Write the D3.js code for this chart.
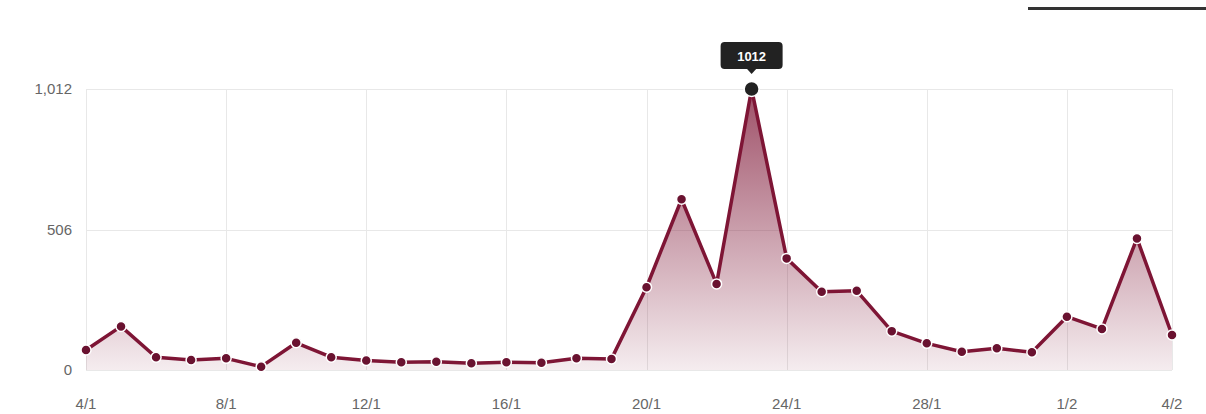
<!DOCTYPE html>
<html>
<head>
<meta charset="utf-8">
<script src="https://cdn.jsdelivr.net/npm/d3@7"></script>
<style>
  html, body { margin: 0; padding: 0; background: #fff; }
  svg { display: block; font-family: "Liberation Sans", Arial, sans-serif; }
</style>
</head>
<body>
<svg id="chart" width="1206" height="414"></svg>
<script>
/*** Data ***/
var days = ["2015-01-04","2015-01-05","2015-01-06","2015-01-07","2015-01-08","2015-01-09","2015-01-10","2015-01-11",
            "2015-01-12","2015-01-13","2015-01-14","2015-01-15","2015-01-16","2015-01-17","2015-01-18","2015-01-19",
            "2015-01-20","2015-01-21","2015-01-22","2015-01-23","2015-01-24","2015-01-25","2015-01-26","2015-01-27",
            "2015-01-28","2015-01-29","2015-01-30","2015-01-31","2015-02-01","2015-02-02","2015-02-03","2015-02-04"];
var counts = [72, 157, 46, 36, 42, 12, 98, 46,
              34, 28, 30, 24, 28, 26, 42, 40,
              298, 615, 310, 1012, 402, 282, 285, 140,
              96, 66, 78, 64, 192, 148, 474, 126];
var yTicks = [0, 506, 1012];
var xTickDays = ["2015-01-04","2015-01-08","2015-01-12","2015-01-16","2015-01-20","2015-01-24","2015-01-28","2015-02-01","2015-02-04"];
var highlightDay = "2015-01-23";

/*** Chart ***/
var parse = d3.timeParse("%Y-%m-%d");
var fmt = d3.timeFormat("%-d/%-m");
var lineColor = "#7e1535";

var margin = {top: 89, right: 34, bottom: 44, left: 86},
    width = 1206, height = 414;

var svg = d3.select("#chart");

var data = days.map((d, i) => ({date: parse(d), value: counts[i]}));

var x = d3.scaleTime()
  .domain(d3.extent(data, d => d.date))
  .range([margin.left, width - margin.right]);
var y = d3.scaleLinear()
  .domain([0, 1012])
  .range([height - margin.bottom, margin.top]);

// top-right header bar
svg.append("rect")
  .attr("x", 1028).attr("y", 7).attr("width", 178).attr("height", 3)
  .attr("fill", "#333");

// gradient for the area
var grad = svg.append("defs").append("linearGradient")
  .attr("id", "areaFill")
  .attr("gradientUnits", "userSpaceOnUse")
  .attr("x1", 0).attr("x2", 0)
  .attr("y1", y(1012)).attr("y2", y(0));
grad.append("stop").attr("offset", "0%").attr("stop-color", lineColor).attr("stop-opacity", 0.75);
grad.append("stop").attr("offset", "100%").attr("stop-color", lineColor).attr("stop-opacity", 0.08);

// grid
var grid = svg.append("g").attr("stroke", "#e8e8e8").attr("stroke-width", 1);
grid.selectAll("line.h").data(yTicks).enter().append("line")
  .attr("x1", margin.left).attr("x2", width - margin.right)
  .attr("y1", d => Math.round(y(d)) + 0.5).attr("y2", d => Math.round(y(d)) + 0.5);
grid.selectAll("line.v").data(xTickDays.map(parse)).enter().append("line")
  .attr("x1", d => Math.round(x(d)) + 0.5).attr("x2", d => Math.round(x(d)) + 0.5)
  .attr("y1", y(1012)).attr("y2", y(0));

// y labels
svg.append("g").selectAll("text").data(yTicks).enter().append("text")
  .attr("x", 72).attr("y", d => y(d)).attr("dy", "0.35em")
  .attr("text-anchor", "end")
  .attr("font-size", "15px").attr("fill", "#666")
  .text(d3.format(","));

// x labels
svg.append("g").selectAll("text").data(xTickDays.map(parse)).enter().append("text")
  .attr("x", d => x(d)).attr("y", 404).attr("dy", "0.35em")
  .attr("text-anchor", "middle")
  .attr("font-size", "15px").attr("fill", "#666")
  .text(fmt);

// area + line
svg.append("path").datum(data)
  .attr("fill", "url(#areaFill)")
  .attr("d", d3.area().x(d => x(d.date)).y0(y(0)).y1(d => y(d.value)));
svg.append("path").datum(data)
  .attr("fill", "none")
  .attr("stroke", lineColor).attr("stroke-width", 3.5)
  .attr("stroke-linejoin", "round")
  .attr("d", d3.line().x(d => x(d.date)).y(d => y(d.value)));

// points
svg.append("g").selectAll("circle").data(data.filter(d => fmt(d.date) !== fmt(parse(highlightDay))))
  .enter().append("circle")
  .attr("cx", d => x(d.date)).attr("cy", d => y(d.value))
  .attr("r", 5)
  .attr("fill", "#6a1230").attr("stroke", "#fff").attr("stroke-width", 1.5);

// highlighted point with tooltip
var hp = data.find(d => fmt(d.date) === fmt(parse(highlightDay)));
var hx = x(hp.date), hy = y(hp.value);
svg.append("circle")
  .attr("cx", hx).attr("cy", hy).attr("r", 7.5)
  .attr("fill", "#222").attr("stroke", "#fff").attr("stroke-width", 1.5);

var tip = svg.append("g").attr("transform", "translate(" + hx + "," + (hy - 17) + ")");
tip.append("rect")
  .attr("x", -31).attr("y", -30).attr("width", 62).attr("height", 27)
  .attr("rx", 4).attr("fill", "#222");
tip.append("path").attr("d", "M-5,-3.5 L0,2 L5,-3.5 Z").attr("fill", "#222");
tip.append("text")
  .attr("x", 0).attr("y", -16).attr("dy", "0.35em")
  .attr("text-anchor", "middle")
  .attr("font-size", "13px").attr("font-weight", "bold").attr("fill", "#fff")
  .text(hp.value);
</script>
</body>
</html>
